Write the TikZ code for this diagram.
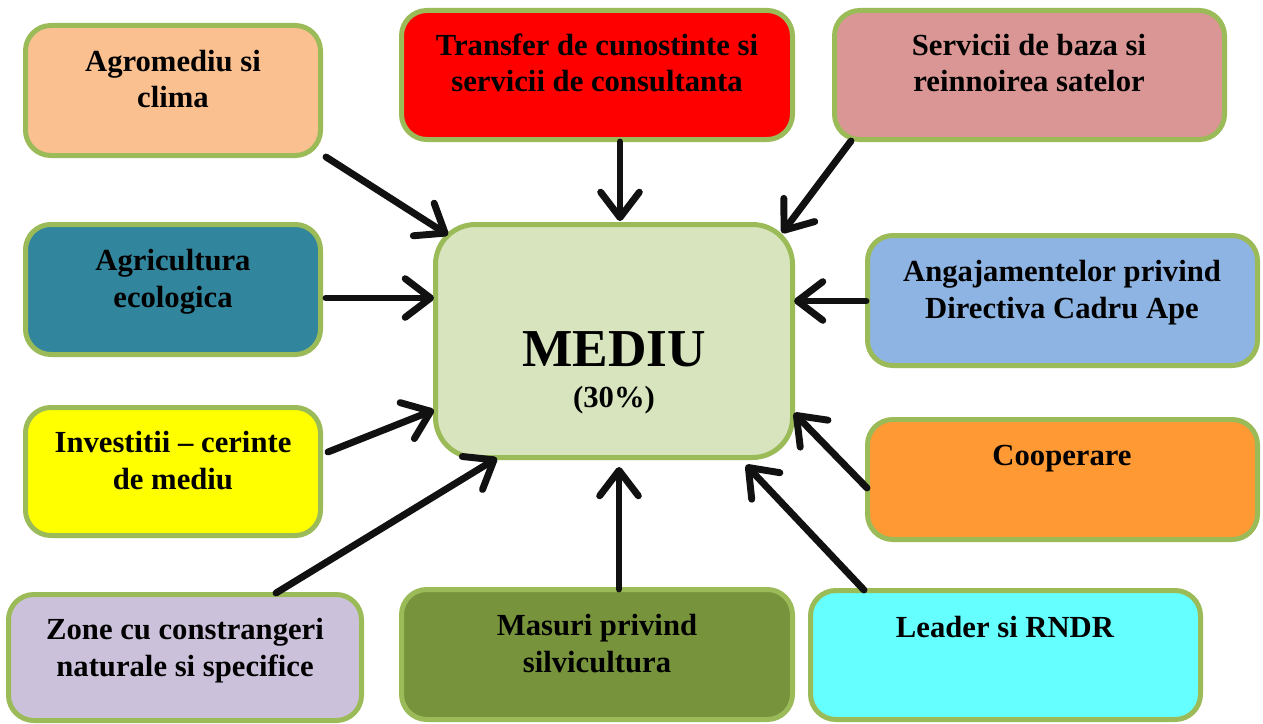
\documentclass[tikz,border=0pt]{standalone}
\usepackage{fontspec}
\setmainfont{Liberation Serif}
\usetikzlibrary{arrows.meta,fit}
\definecolor{bordergreen}{HTML}{9BBB59}
\definecolor{cAgro}{HTML}{FAC090}
\definecolor{cTransfer}{HTML}{FF0000}
\definecolor{cServ}{HTML}{D99694}
\definecolor{cAgri}{HTML}{31859C}
\definecolor{cAnga}{HTML}{8EB4E3}
\definecolor{cInv}{HTML}{FFFF00}
\definecolor{cCoop}{HTML}{FF9933}
\definecolor{cZone}{HTML}{CCC1DA}
\definecolor{cMas}{HTML}{77933C}
\definecolor{cLead}{HTML}{66FFFF}
\definecolor{cMed}{HTML}{D7E4BD}
\definecolor{arrowblack}{HTML}{111111}
\tikzset{
  box/.style={draw=bordergreen, line width=3.75pt, rounded corners=19pt, inner sep=0pt},
  bigbox/.style={box, rounded corners=30pt},
  txt/.style={font=\bfseries\fontsize{23}{27.6}\selectfont, align=center, anchor=base, inner sep=0pt},
  arr/.style={draw=arrowblack, line width=5.2pt, line cap=round,
    -{Straight Barb[length=19pt,width=29pt,line cap=round,line join=round]}}
}
\begin{document}
\begin{tikzpicture}[x=0.75pt,y=-0.75pt]
\useasboundingbox (0,0) rectangle (1263,724);
% boxes (stroke centerlines)
\node[box, fill=cAgro, fit={(25.5,25.5) (320.5,155.5)}] (agro) {};
\node[box, fill=cTransfer, fit={(401.5,10.5) (792.5,139.5)}] (transfer) {};
\node[box, fill=cServ, fit={(834.5,10.5) (1224.5,139.5)}] (serv) {};
\node[box, fill=cAgri, fit={(25.5,224.5) (320.5,354.5)}] (agri) {};
\node[box, fill=cAnga, fit={(867.5,235.5) (1257.5,365.5)}] (anga) {};
\node[box, fill=cInv, fit={(25.5,407.5) (320.5,535.5)}] (inv) {};
\node[box, fill=cCoop, fit={(867.5,419.5) (1257.5,539.5)}] (coop) {};
\node[box, fill=cZone, fit={(8.5,594.5) (361.5,720.5)}] (zone) {};
\node[box, fill=cMas, fit={(401.5,589.5) (792.5,719.5)}] (mas) {};
\node[box, fill=cLead, fit={(810.5,590.5) (1200.5,719.5)}] (lead) {};
\node[bigbox, fill=cMed, fit={(435.5,224.5) (792.5,457.5)}] (mediu) {};
% texts (anchor = baseline of last line)
\node[txt] (tagro) at (173,108) {Agromediu si\\clima};
\node[txt] (ttransfer) at (597,92) {Transfer de cunostinte si\\servicii de consultanta};
\node[txt] (tserv) at (1029,92) {Servicii de baza si\\reinnoirea satelor};
\node[txt] (tagri) at (173,307) {Agricultura\\ecologica};
\node[txt] (tanga) at (1062,318) {Angajamentelor privind\\Directiva Cadru Ape};
\node[txt] (tinv) at (173,489) {Investitii -- cerinte\\de mediu};
\node[txt] (tcoop) at (1062,465) {Cooperare};
\node[txt] (tzone) at (185,676) {Zone cu constrangeri\\naturale si specifice};
\node[txt] (tmas) at (597,672) {Masuri privind\\silvicultura};
\node[txt] (tlead) at (1005,637) {Leader si RNDR};
\node[font=\bfseries\fontsize{40}{44}\selectfont, anchor=base, inner sep=0pt] (tmed) at (614,366) {MEDIU};
\node[txt] (tpct) at (614,407) {(30\%)};
% connector ends
\coordinate (a1) at (326,157); \coordinate (b1) at (448,235);
\coordinate (a2) at (620,142); \coordinate (b2) at (620,221);
\coordinate (a3) at (851,141); \coordinate (b3) at (782,233);
\coordinate (a4) at (866,301); \coordinate (b4) at (794,301);
\coordinate (a5) at (867,488); \coordinate (b5) at (794,413);
\coordinate (a6) at (864,590); \coordinate (b6) at (746,465);
\coordinate (a7) at (619,589); \coordinate (b7) at (619,467);
\coordinate (a8) at (276,593); \coordinate (b8) at (497,458);
\coordinate (a9) at (328,452); \coordinate (b9) at (434,410);
\coordinate (a10) at (326,298); \coordinate (b10) at (434,298);
\foreach \i in {1,...,10} {\draw[arr] (a\i) -- (b\i);}
\end{tikzpicture}
\end{document}
